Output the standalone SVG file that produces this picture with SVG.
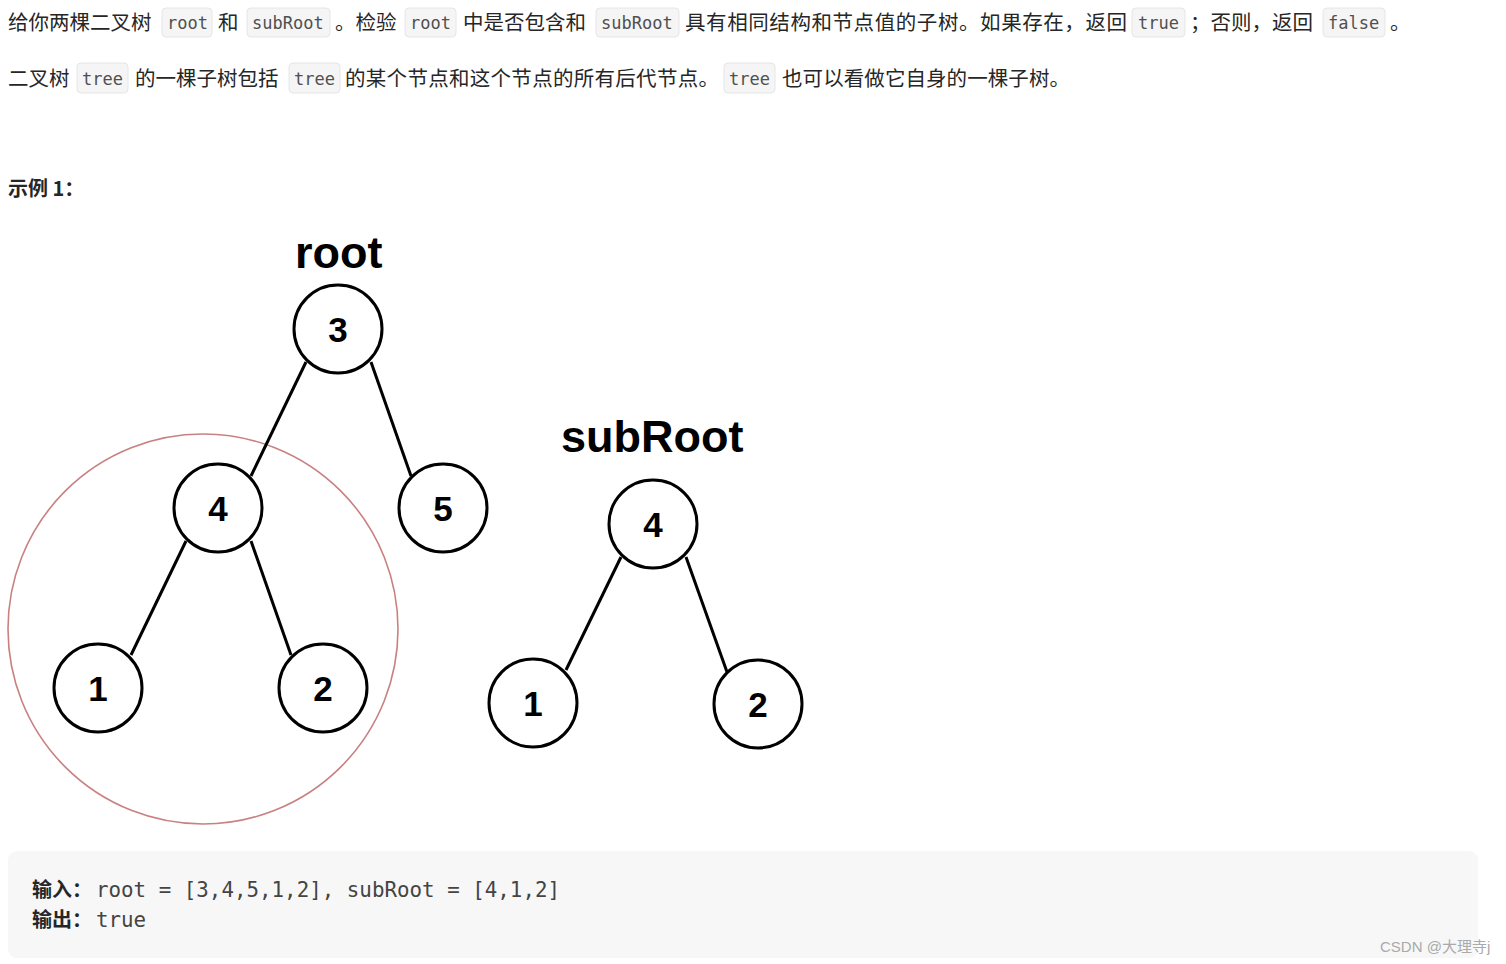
<svg xmlns="http://www.w3.org/2000/svg" width="1506" height="964" viewBox="0 0 1506 964">
<style>
.cn{font-family:"Noto Sans CJK SC","Noto Sans",sans-serif;font-size:20.5px;fill:#262626}
.cb{fill:#f5f5f5;stroke:#e6e6e6;stroke-width:1}
.mono{font-family:"DejaVu Sans Mono","Liberation Mono",monospace;font-size:17px;fill:#505050}
.node circle{fill:#fff;stroke:#000;stroke-width:3}
.node text{font-family:"Liberation Sans",Arial,sans-serif;font-weight:bold;font-size:35px;fill:#000;text-anchor:middle}
.edge{stroke:#000;stroke-width:3;fill:none}
.lbl{font-family:"Liberation Sans",Arial,sans-serif;font-weight:bold;font-size:45px;fill:#000}
.code{font-family:"DejaVu Sans Mono","Liberation Mono",monospace;font-size:20.8px;fill:#444}
.bold{font-family:"Noto Sans CJK SC",sans-serif;font-weight:bold;font-size:20px;fill:#262626}
</style>
<rect width="1506" height="964" fill="#fff"/>
<g id="intro">
<text class="cn" x="8" y="30">给你两棵二叉树</text>
<rect class="cb" x="162" y="8" width="50" height="29" rx="4"/>
<text class="mono" x="167" y="29">root</text>
<text class="cn" x="218" y="30">和</text>
<rect class="cb" x="247" y="8" width="83" height="29" rx="4"/>
<text class="mono" x="252" y="29">subRoot</text>
<text class="cn" x="335" y="30">。检验</text>
<rect class="cb" x="405" y="8" width="51" height="29" rx="4"/>
<text class="mono" x="410" y="29">root</text>
<text class="cn" x="463" y="30">中是否包含和</text>
<rect class="cb" x="596" y="8" width="83" height="29" rx="4"/>
<text class="mono" x="601" y="29">subRoot</text>
<text class="cn" x="685" y="30" textLength="442">具有相同结构和节点值的子树。如果存在，返回</text>
<rect class="cb" x="1132" y="8" width="53" height="29" rx="4"/>
<text class="mono" x="1138" y="29">true</text>
<text class="cn" x="1190" y="30">；否则，返回</text>
<rect class="cb" x="1323" y="8" width="62" height="29" rx="4"/>
<text class="mono" x="1328" y="29">false</text>
<text class="cn" x="1390" y="30">。</text>

<text class="cn" x="8" y="86">二叉树</text>
<rect class="cb" x="77" y="63" width="51" height="30" rx="4"/>
<text class="mono" x="82" y="85">tree</text>
<text class="cn" x="135" y="86">的一棵子树包括</text>
<rect class="cb" x="289" y="63" width="51" height="30" rx="4"/>
<text class="mono" x="294" y="85">tree</text>
<text class="cn" x="345" y="86" textLength="374">的某个节点和这个节点的所有后代节点。</text>
<rect class="cb" x="724" y="63" width="51" height="30" rx="4"/>
<text class="mono" x="729" y="85">tree</text>
<text class="cn" x="782" y="86" textLength="288">也可以看做它自身的一棵子树。</text>

<text class="bold" x="8" y="196" font-size="19">示例 1：</text>
</g>

<g id="labels">
<text class="lbl" x="295" y="268">root</text>
<text class="lbl" x="561" y="452">subRoot</text>
</g>

<circle id="highlight" cx="203" cy="629" r="195" fill="none" stroke="#c98080" stroke-width="1.6"/>

<g id="connectors">
<line class="edge" x1="306" y1="362" x2="251" y2="476"/>
<line class="edge" x1="371" y1="362" x2="411" y2="476"/>
<line class="edge" x1="186" y1="541" x2="131" y2="655"/>
<line class="edge" x1="251" y1="541" x2="291" y2="655"/>
<line class="edge" x1="621" y1="557" x2="566" y2="670"/>
<line class="edge" x1="686" y1="557" x2="727" y2="672"/>
</g>

<g id="n3" class="node"><circle cx="338" cy="329" r="44"/><text x="338" y="342">3</text></g>
<g id="n4" class="node"><circle cx="218" cy="508" r="44"/><text x="218" y="521">4</text></g>
<g id="n5" class="node"><circle cx="443" cy="508" r="44"/><text x="443" y="521">5</text></g>
<g id="n1" class="node"><circle cx="98" cy="688" r="44"/><text x="98" y="701">1</text></g>
<g id="n2" class="node"><circle cx="323" cy="688" r="44"/><text x="323" y="701">2</text></g>
<g id="s4" class="node"><circle cx="653" cy="524" r="44"/><text x="653" y="537">4</text></g>
<g id="s1" class="node"><circle cx="533" cy="703" r="44"/><text x="533" y="716">1</text></g>
<g id="s2" class="node"><circle cx="758" cy="704" r="44"/><text x="758" y="717">2</text></g>

<g id="example">
<rect x="8" y="851" width="1470" height="107" rx="9" fill="#f7f7f7"/>
<text class="bold" x="32" y="897">输入：</text>
<text class="code" x="96" y="897" textLength="464">root = [3,4,5,1,2], subRoot = [4,1,2]</text>
<text class="bold" x="32" y="927">输出：</text>
<text class="code" x="96" y="927">true</text>
</g>
<text id="watermark" x="1380" y="952" font-family="Liberation Sans,Noto Sans CJK SC,sans-serif" font-size="15" fill="#aaa">CSDN @大理寺j</text>
</svg>
